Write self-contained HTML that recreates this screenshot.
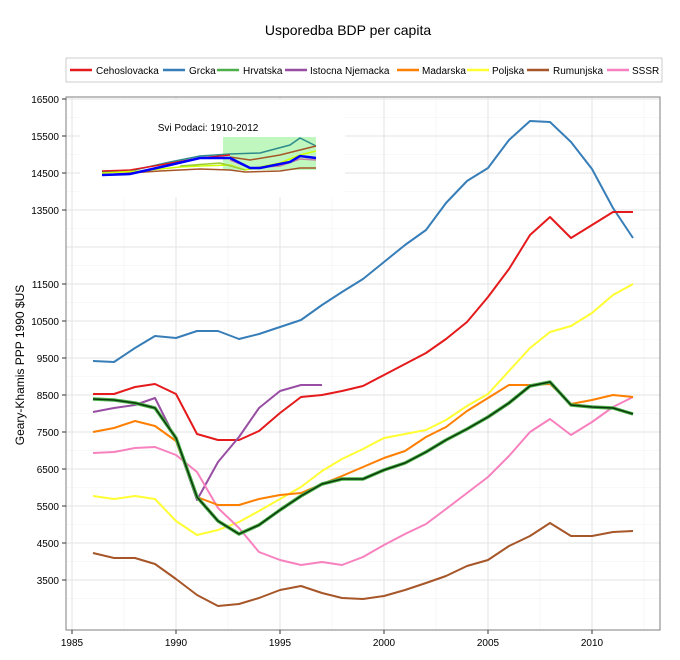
<!DOCTYPE html><html><head><style>body{margin:0;background:#fff}svg{font-family:"Liberation Sans",sans-serif}</style></head><body>
<svg width="680" height="655" viewBox="0 0 680 655" xmlns="http://www.w3.org/2000/svg">
<rect width="680" height="655" fill="#fff"/>
<text x="348" y="35" font-size="14" text-anchor="middle">Usporedba BDP per capita</text>
<rect x="66" y="58" width="596" height="24" fill="none" stroke="#999" stroke-width="0.5"/>
<g font-size="10">
<line x1="70" y1="70" x2="92" y2="70" stroke="#e41a1c" stroke-width="2.5"/><text x="96" y="74">Cehoslovacka</text>
<line x1="163" y1="70" x2="185" y2="70" stroke="#377eb8" stroke-width="2.5"/><text x="189" y="74">Grcka</text>
<line x1="217" y1="70" x2="239" y2="70" stroke="#4daf4a" stroke-width="2.5"/><text x="243" y="74">Hrvatska</text>
<line x1="285" y1="70" x2="307" y2="70" stroke="#984ea3" stroke-width="2.5"/><text x="310" y="74">Istocna Njemacka</text>
<line x1="397" y1="70" x2="419" y2="70" stroke="#ff7f00" stroke-width="2.5"/><text x="422" y="74">Madarska</text>
<line x1="467" y1="70" x2="489" y2="70" stroke="#ffff33" stroke-width="2.5"/><text x="492" y="74">Poljska</text>
<line x1="527" y1="70" x2="549" y2="70" stroke="#a65628" stroke-width="2.5"/><text x="553" y="74">Rumunjska</text>
<line x1="607" y1="70" x2="629" y2="70" stroke="#f781bf" stroke-width="2.5"/><text x="632" y="74">SSSR</text>
</g>
<g stroke="#f2f2f2" stroke-width="0.6">
<line x1="66" x2="660" y1="117.5" y2="117.5"/><line x1="66" x2="660" y1="154.5" y2="154.5"/><line x1="66" x2="660" y1="191.5" y2="191.5"/><line x1="66" x2="660" y1="228.5" y2="228.5"/><line x1="66" x2="660" y1="265.5" y2="265.5"/><line x1="66" x2="660" y1="302.5" y2="302.5"/><line x1="66" x2="660" y1="339.5" y2="339.5"/><line x1="66" x2="660" y1="376.5" y2="376.5"/><line x1="66" x2="660" y1="413.5" y2="413.5"/><line x1="66" x2="660" y1="450.5" y2="450.5"/><line x1="66" x2="660" y1="487.5" y2="487.5"/><line x1="66" x2="660" y1="524.5" y2="524.5"/><line x1="66" x2="660" y1="561.5" y2="561.5"/><line x1="66" x2="660" y1="598.5" y2="598.5"/>
<line y1="97" y2="630" x1="124" x2="124"/><line y1="97" y2="630" x1="228" x2="228"/><line y1="97" y2="630" x1="332" x2="332"/><line y1="97" y2="630" x1="436" x2="436"/><line y1="97" y2="630" x1="540" x2="540"/><line y1="97" y2="630" x1="644" x2="644"/>
</g>
<g stroke="#e3e3e3" stroke-width="1">
<line x1="66" x2="660" y1="99" y2="99"/><line x1="66" x2="660" y1="136" y2="136"/><line x1="66" x2="660" y1="173" y2="173"/><line x1="66" x2="660" y1="210" y2="210"/><line x1="66" x2="660" y1="247" y2="247"/><line x1="66" x2="660" y1="284" y2="284"/><line x1="66" x2="660" y1="321" y2="321"/><line x1="66" x2="660" y1="358" y2="358"/><line x1="66" x2="660" y1="395" y2="395"/><line x1="66" x2="660" y1="432" y2="432"/><line x1="66" x2="660" y1="469" y2="469"/><line x1="66" x2="660" y1="506" y2="506"/><line x1="66" x2="660" y1="543" y2="543"/><line x1="66" x2="660" y1="580" y2="580"/>
<line y1="97" y2="630" x1="72" x2="72"/><line y1="97" y2="630" x1="176" x2="176"/><line y1="97" y2="630" x1="280" x2="280"/><line y1="97" y2="630" x1="384" x2="384"/><line y1="97" y2="630" x1="488" x2="488"/><line y1="97" y2="630" x1="592" x2="592"/>
</g>
<g fill="none" stroke-width="2" stroke-linejoin="round">
<polyline stroke="#377eb8" points="93,361 114,362 135,348 155,336 176,338 197,331 218,331 239,339 259,334 280,327 301,320 322,305 342,292 363,279 384,262 405,245 426,230 446,203 467,181 488,168 509,140 530,121 550,122 571,142 592,169 613,208 633,238"/>
<polyline stroke="#e41a1c" points="93,394 114,394 135,387 155,384 176,394 197,434 218,440 239,440 259,431 280,413 301,397 322,395 342,391 363,386 384,375 405,364 426,353 446,339 467,322 488,297 509,269 530,235 550,217 571,238 592,225 613,212 633,212"/>
<polyline stroke="#984ea3" points="93,412 114,408 135,405 155,398 176,440 197,500 218,462 239,437 259,408 280,391 301,385 322,385"/>
<polyline stroke="#ffff33" points="93,496 114,499 135,496 155,499 176,521 197,535 218,530 239,522 259,511 280,499 301,487 322,471 342,459 363,449 384,438 405,434 426,430 446,420 467,406 488,394 509,371 530,348 550,332 571,326 592,313 613,295 633,284"/>
<polyline stroke="#f781bf" points="93,453 114,452 135,448 155,447 176,455 197,472 218,508 239,528 259,552 280,560 301,565 322,562 342,565 363,557 384,545 405,534 426,524 446,509 467,493 488,477 509,456 530,432 550,419 571,435 592,422 613,407 633,397"/>
<polyline stroke="#ff7f00" points="93,432 114,428 135,421 155,426 176,441 197,497 218,505 239,505 259,499 280,495 301,493 322,484 342,476 363,467 384,458 405,451 426,437 446,427 467,411 488,398 509,385 530,385 550,384 571,404 592,400 613,395 633,397"/>
<polyline stroke="#4daf4a" stroke-width="3.5" points="93,399 114,400 135,403 155,408 176,438 197,497 218,521 239,534 259,525 280,510 301,496 322,484 342,479 363,479 384,470 405,463 426,452 446,440 467,429 488,417 509,403 530,386 550,382 571,405 592,407 613,408 633,414"/>
<polyline stroke="#0a3a0a" stroke-width="1.5" points="93,399 114,400 135,403 155,408 176,438 197,497 218,521 239,534 259,525 280,510 301,496 322,484 342,479 363,479 384,470 405,463 426,452 446,440 467,429 488,417 509,403 530,386 550,382 571,405 592,407 613,408 633,414"/>
<polyline stroke="#a65628" points="93,553 114,558 135,558 155,564 176,579 197,595 218,606 239,604 259,598 280,590 301,586 322,593 342,598 363,599 384,596 405,590 426,583 446,576 467,566 488,560 509,546 530,536 550,523 571,536 592,536 613,532 633,531"/>
</g>
<rect x="80" y="100" width="265" height="97" fill="#fff"/>
<text x="208" y="131" font-size="10" text-anchor="middle">Svi Podaci: 1910-2012</text>
<rect x="223" y="137" width="93" height="33" fill="#bff7bf"/>
<g fill="none" stroke-width="1.5">
<polyline stroke="#2e8b8b" points="102,172 130,171 170,162 200,156 230,154 260,153 290,145 300,138 316,146"/>
<polyline stroke="#e41a1c" points="102,171 130,170 160,165 200,158 230,155"/>
<polyline stroke="#a65628" points="230,157 250,160 280,155 300,150 316,146"/>
<polyline stroke="#ccff00" points="102,173 140,171 180,167 200,166 230,165 245,170 280,163 300,155 316,151"/>
<polyline stroke="#c77f9f" points="230,160 250,168 280,166 300,159 316,160"/>
<polyline stroke="#9acd32" points="180,166 220,163 245,170"/>
<polyline stroke="#a65628" points="102,175 160,171 200,169 230,170 245,172 280,171 300,168 316,168"/>
<polyline stroke="#0000ff" stroke-width="2.5" points="102,175 130,174 170,165 200,158 230,158 240,163 250,168 260,168 290,162 300,156 316,158"/>
</g>
<rect x="66" y="97" width="594" height="533" fill="none" stroke="#7f7f7f" stroke-width="1"/>
<g stroke="#333" stroke-width="1"><line x1="62" x2="66" y1="99" y2="99"/><line x1="62" x2="66" y1="136" y2="136"/><line x1="62" x2="66" y1="173" y2="173"/><line x1="62" x2="66" y1="210" y2="210"/><line x1="62" x2="66" y1="284" y2="284"/><line x1="62" x2="66" y1="321" y2="321"/><line x1="62" x2="66" y1="358" y2="358"/><line x1="62" x2="66" y1="395" y2="395"/><line x1="62" x2="66" y1="432" y2="432"/><line x1="62" x2="66" y1="469" y2="469"/><line x1="62" x2="66" y1="506" y2="506"/><line x1="62" x2="66" y1="543" y2="543"/><line x1="62" x2="66" y1="580" y2="580"/>
<line y1="630" y2="634" x1="72" x2="72"/><line y1="630" y2="634" x1="176" x2="176"/><line y1="630" y2="634" x1="280" x2="280"/><line y1="630" y2="634" x1="384" x2="384"/><line y1="630" y2="634" x1="488" x2="488"/><line y1="630" y2="634" x1="592" x2="592"/></g>
<g font-size="10" text-anchor="end"><text x="59" y="103">16500</text><text x="59" y="140">15500</text><text x="59" y="177">14500</text><text x="59" y="214">13500</text><text x="59" y="288">11500</text><text x="59" y="325">10500</text><text x="59" y="362">9500</text><text x="59" y="399">8500</text><text x="59" y="436">7500</text><text x="59" y="473">6500</text><text x="59" y="510">5500</text><text x="59" y="547">4500</text><text x="59" y="584">3500</text></g>
<g font-size="10" text-anchor="middle"><text x="72" y="646">1985</text><text x="176" y="646">1990</text><text x="280" y="646">1995</text><text x="384" y="646">2000</text><text x="488" y="646">2005</text><text x="592" y="646">2010</text></g>
<text transform="translate(24,365) rotate(-90)" font-size="12" text-anchor="middle">Geary-Khamis PPP 1990 $US</text>
</svg></body></html>
